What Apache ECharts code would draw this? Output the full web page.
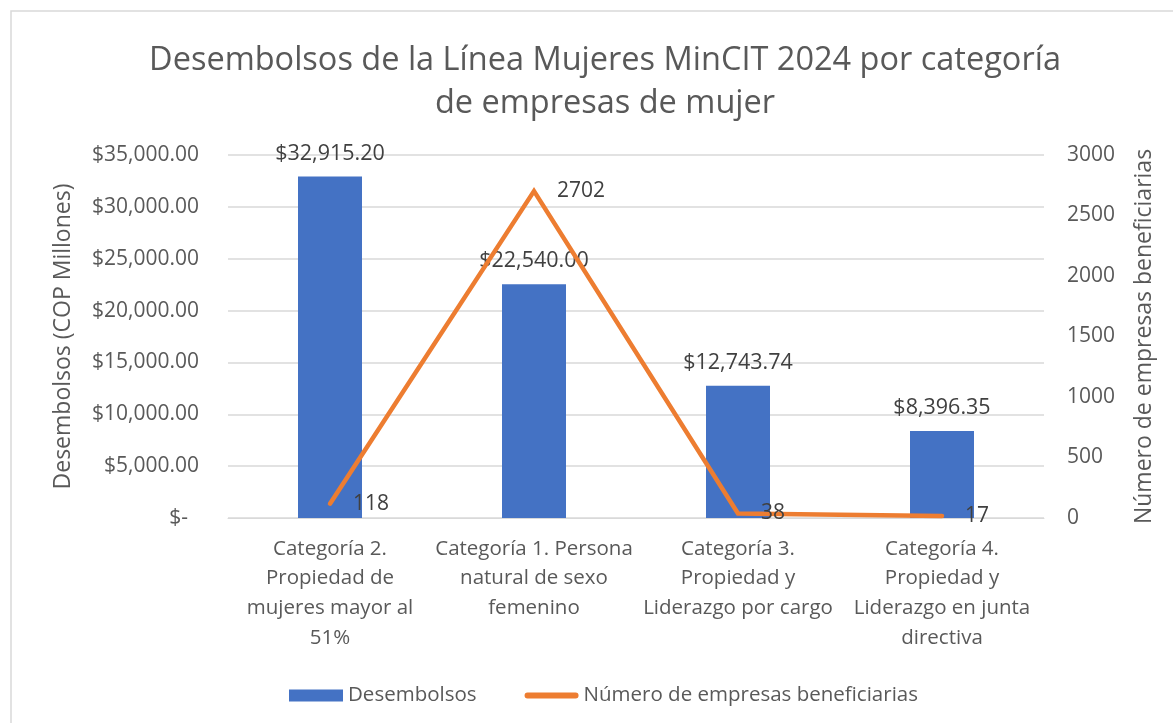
<!DOCTYPE html>
<html>
<head>
<meta charset="utf-8">
<script src="https://cdn.jsdelivr.net/npm/echarts@6/dist/echarts.min.js"></script>
<style>
  html, body { margin: 0; padding: 0; background: #fff; }
  #chart { width: 1173px; height: 723px; }
</style>
</head>
<body>
<div id="chart"></div>
<script>
// categorías (con los saltos de línea del eje)
const categorias = [
  'Categoría 2.\nPropiedad de\nmujeres mayor al\n51%',
  'Categoría 1. Persona\nnatural de sexo\nfemenino',
  'Categoría 3.\nPropiedad y\nLiderazgo por cargo',
  'Categoría 4.\nPropiedad y\nLiderazgo en junta\ndirectiva'
]
const desembolsos = [32915.20, 22540.00, 12743.74, 8396.35]
const empresas = [118, 2702, 38, 17]

const FONT = 'Open Sans'
const GRAY = '#595959'

function money (v) {
  if (v === 0) return '$-  '
  return '$' + v.toLocaleString('en-US', { minimumFractionDigits: 2, maximumFractionDigits: 2 })
}

const chart = echarts.init(document.getElementById('chart'))
chart.setOption({
  backgroundColor: '#fff',
  textStyle: { fontFamily: FONT, color: GRAY },
  graphic: [{
    type: 'rect',
    shape: { x: 11, y: 11, width: 1200, height: 800 },
    style: { fill: 'none', stroke: '#d9d9d9', lineWidth: 1.5 },
    z: -1
  }],
  title: {
    text: 'Desembolsos de la Línea Mujeres MinCIT 2024 por categoría\nde empresas de mujer',
    left: 600,
    textAlign: 'center',
    top: 34,
    textStyle: { fontFamily: FONT, fontSize: 32.5, fontWeight: 'normal', color: GRAY, lineHeight: 43 }
  },
  legend: {
    left: 284,
    top: 680,
    itemWidth: 54,
    itemHeight: 12,
    itemGap: 48,
    textStyle: { fontFamily: FONT, fontSize: 20.5, color: GRAY },
    data: [
      { name: 'Desembolsos', icon: 'rect' },
      { name: 'Número de empresas beneficiarias', icon: 'path://M3,0 H53 A3,3 0 0 1 53,6 H3 A3,3 0 0 1 3,0 Z' }
    ]
  },
  grid: { left: 228, right: 129, top: 155, bottom: 205 },
  xAxis: {
    type: 'category',
    data: categorias,
    axisTick: { show: false },
    axisLine: { lineStyle: { color: '#d9d9d9', width: 1 } },
    axisLabel: { fontFamily: FONT, fontSize: 20.5, color: GRAY, lineHeight: 29.7, margin: 16, interval: 0, align: 'center' }
  },
  yAxis: [{
    type: 'value',
    min: 0,
    max: 35000,
    interval: 5000,
    name: 'Desembolsos (COP Millones)',
    nameLocation: 'middle',
    nameGap: 153,
    nameRotate: 90,
    nameTextStyle: { fontFamily: FONT, fontSize: 23, color: GRAY },
    axisLabel: { formatter: money, fontFamily: FONT, fontSize: 21, color: GRAY, margin: 29 },
    splitLine: { lineStyle: { color: '#d9d9d9', width: 1.5 } },
    axisLine: { show: false },
    axisTick: { show: false }
  }, {
    type: 'value',
    min: 0,
    max: 3000,
    interval: 500,
    position: 'right',
    name: 'Número de empresas beneficiarias',
    nameLocation: 'middle',
    nameGap: 89,
    nameRotate: 90,
    nameTextStyle: { fontFamily: FONT, fontSize: 23, color: GRAY },
    axisLabel: { formatter: v => String(v), fontFamily: FONT, fontSize: 21, color: GRAY, margin: 23 },
    splitLine: { show: false },
    axisLine: { show: false },
    axisTick: { show: false }
  }],
  series: [{
    name: 'Desembolsos',
    type: 'bar',
    data: desembolsos,
    barWidth: 64,
    itemStyle: { color: '#4472C4' },
    label: {
      show: true,
      position: 'top',
      distance: 12,
      formatter: p => money(p.value),
      fontFamily: FONT,
      fontSize: 21.5,
      color: '#404040'
    }
  }, {
    name: 'Número de empresas beneficiarias',
    type: 'line',
    yAxisIndex: 1,
    data: empresas,
    symbol: 'circle',
    symbolSize: 2,
    itemStyle: { color: '#ED7D31' },
    lineStyle: { color: '#ED7D31', width: 4.5, cap: 'round', join: 'miter' },
    label: {
      show: true,
      position: 'right',
      distance: 22,
      fontFamily: FONT,
      fontSize: 21,
      color: '#404040'
    },
    z: 3
  }]
})
</script>
</body>
</html>
